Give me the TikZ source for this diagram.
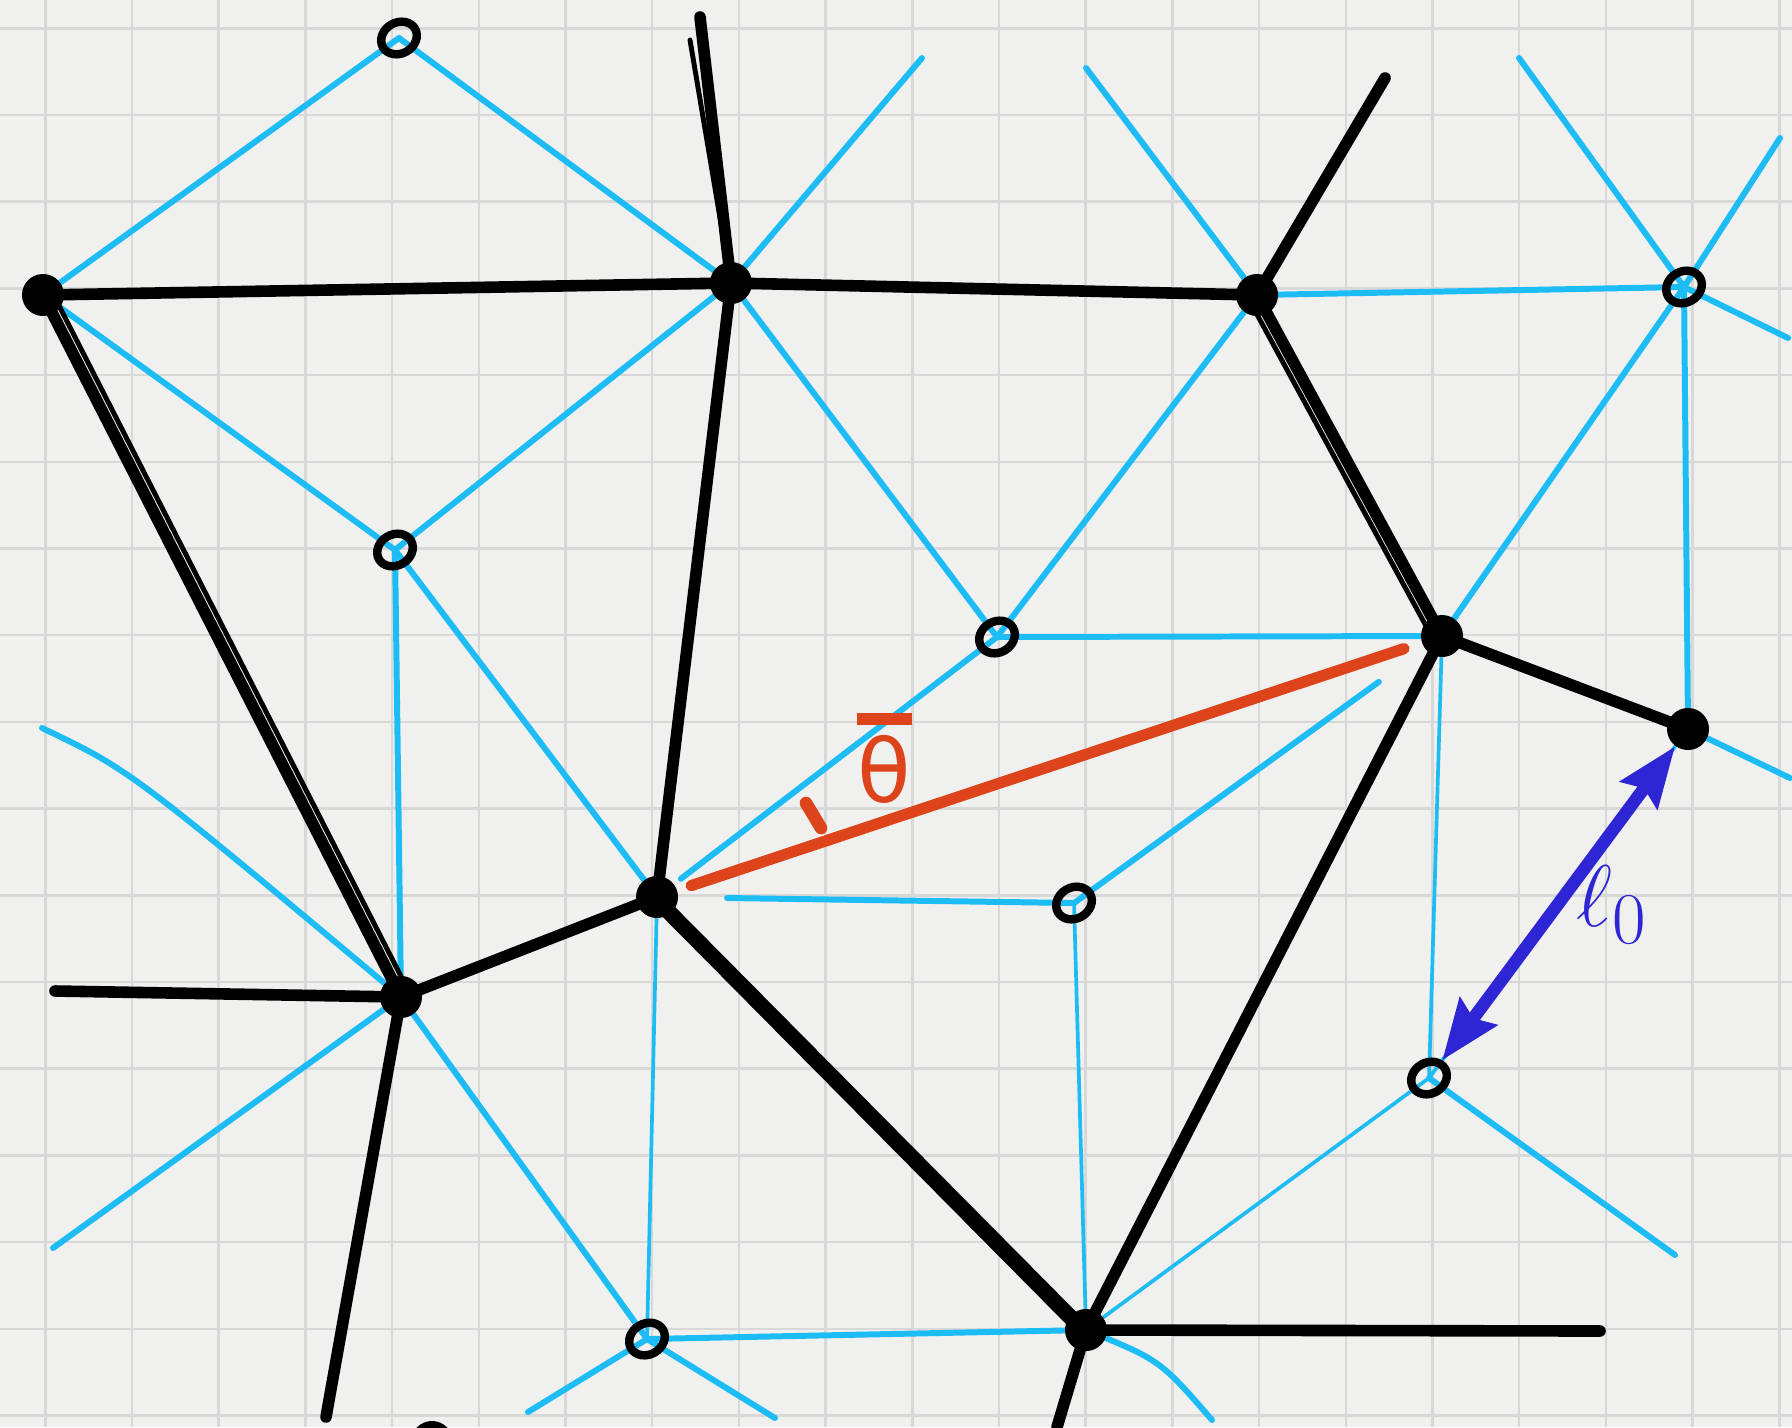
\documentclass[tikz,border=0pt]{standalone}
\usepackage{fontspec}
\newfontfamily\djv{DejaVu Sans}
\usetikzlibrary{arrows.meta,shapes.geometric}
\definecolor{paper}{RGB}{240,240,239}
\definecolor{gridc}{RGB}{216,216,216}
\definecolor{cyanl}{RGB}{30,188,245}
\definecolor{redl}{RGB}{222,68,28}
\definecolor{bluel}{RGB}{46,38,212}
\pgfdeclarelayer{paperlayer}
\pgfdeclarelayer{edges}
\pgfsetlayers{paperlayer,edges,main}
\tikzset{
  blk/.style={circle,fill=black,inner sep=0pt,minimum size=0.42cm},
  opn/.style={ellipse,draw=black,line width=2.4pt,inner sep=0pt,minimum width=0.37cm,minimum height=0.31cm,rotate=30},
  cy/.style={draw=cyanl,line width=1.7pt,line cap=round},
  cythin/.style={draw=cyanl,line width=1.05pt,line cap=round},
  bl/.style={draw=black,line width=3.3pt,line cap=round},
  blsk/.style={draw=black,line width=1.4pt,line cap=round},
  redline/.style={draw=redl,line width=3.2pt,line cap=round},
  bluearrow/.style={draw=bluel,line width=3.6pt,{Stealth[length=0.6cm,width=0.45cm,inset=0.08cm]}-{Stealth[length=0.6cm,width=0.45cm,inset=0.08cm]}},
  gridline/.style={draw=gridc,line width=0.7pt}
}
\begin{document}
\begin{tikzpicture}[x=0.01cm,y=-0.01cm]
\useasboundingbox (0,0) rectangle (1792,1427);
\begin{pgfonlayer}{paperlayer}
  \fill[paper] (0,0) rectangle (1792,1427);
  \foreach \i in {0,...,20} \draw[gridline] ({45.3+86.7*\i},0) -- ({45.3+86.7*\i},1427);
  \foreach \j in {0,...,16} \draw[gridline] (0,{28.3+86.7*\j}) -- (1792,{28.3+86.7*\j});
\end{pgfonlayer}

% black (filled) vertices
\node[blk] (B1) at (43,295) {};
\node[blk] (B2) at (731,283) {};
\node[blk] (B3) at (1257,295) {};
\node[blk] (B4) at (1442,636) {};
\node[blk] (B5) at (1688,729) {};
\node[blk] (B6) at (657,897) {};
\node[blk] (B7) at (401,997) {};
\node[blk] (B8) at (1086,1330) {};
\node[blk] (B9) at (432,1442) {};
% open vertices
\node[opn] (O1) at (399,38) {};
\node[opn] (O2) at (395,550) {};
\node[opn] (O3) at (997,637) {};
\node[opn] (O4) at (1684,287) {};
\node[opn] (O5) at (1074,903) {};
\node[opn] (O6) at (1429,1078) {};
\node[opn] (O7) at (647,1339) {};

% free ends
\coordinate (tB2) at (700,17);
\coordinate (tB2c) at (922,58);
\coordinate (tB3) at (1385,78);
\coordinate (tB3c) at (1086,68);
\coordinate (tO4a) at (1519,58);
\coordinate (tO4b) at (1780,138);
\coordinate (tO4c) at (1788,338);
\coordinate (tB5) at (1790,778);
\coordinate (tO6) at (1675,1255);
\coordinate (tB8r) at (1600,1331);
\coordinate (tB8d) at (1057,1427);
\coordinate (tB8c) at (1212,1420);
\coordinate (tO7a) at (528,1412);
\coordinate (tO7b) at (775,1418);
\coordinate (tB7l) at (55,991);
\coordinate (tB7d) at (326,1417);
\coordinate (tB7u) at (42,728);
\coordinate (tB7w) at (53,1248);

\begin{pgfonlayer}{edges}
% cyan edges
\draw[cy] (O1.center) -- (B1.center);
\draw[cy] (O1.center) -- (B2.center);
\draw[cy] (B1.center) -- (O2.center);
\draw[cy] (O2.center) -- (B2.center);
\draw[cy] (O2.center) -- (B7.center);
\draw[cy] (O2.center) -- (B6.center);
\draw[cy] (B2.center) -- (tB2c);
\draw[cy] (B2.center) -- (O3.center);
\draw[cy] (O3.center) -- (B3.center);
\draw[cy] (B3.center) -- (tB3c);
\draw[cy] (B3.center) -- (O4.center);
\draw[cy] (O3.center) -- (B4.center);
\draw[cy,shorten >=0.3cm] (O3.center) -- (B6.center);
\draw[cy] (B4.center) -- (O4.center);
\draw[cy] (O4.center) -- (tO4a);
\draw[cy] (O4.center) -- (tO4b);
\draw[cy] (O4.center) -- (tO4c);
\draw[cy] (O4.center) -- (B5.center);
\draw[cy] (B5.center) -- (tB5);
\draw[cythin] (B4.center) -- (O6.center);
\draw[cy,shorten >=0.78cm] (O5.center) -- (B4.center);
\draw[cy,shorten >=0.7cm] (O5.center) -- (B6.center);
\draw[cythin] (O5.center) -- (B8.center);
\draw[cythin] (B6.center) -- (O7.center);
\draw[cy] (B7.center) -- (O7.center);
\draw[cy] (tB7u) .. controls (130,770) .. (B7.center);
\draw[cy] (B7.center) -- (tB7w);
\draw[cy] (O7.center) -- (B8.center);
\draw[cy] (O7.center) -- (tO7a);
\draw[cy] (O7.center) -- (tO7b);
\draw[cythin] (B8.center) -- (O6.center);
\draw[cy] (B8.center) .. controls (1160,1360) .. (tB8c);
\draw[cy] (O6.center) -- (tO6);
\draw[cythin] (O6.center) -- (B5.center);
% black edges
\draw[bl] (B1.center) -- (B2.center);
\draw[bl] (B2.center) -- (B3.center);
\draw[bl] (B1.center) -- (B7.center);
\draw[blsk] ([xshift=3]B1.center) -- ([xshift=3]B7.center);
\draw[bl] (B2.center) -- (B6.center);
\draw[bl] (B2.center) -- (tB2);
\draw[blsk] (B2.center) -- (690,40);
\draw[bl] (B3.center) -- (tB3);
\draw[bl] (B3.center) -- (B4.center);
\draw[blsk] ([xshift=-3]B3.center) -- ([xshift=-3]B4.center);
\draw[bl] (B4.center) -- (B5.center);
\draw[bl] (B4.center) -- (B8.center);
\draw[bl] (B6.center) -- (B7.center);
\draw[bl] (B6.center) -- (B8.center);
\draw[blsk] ([xshift=-3]B6.center) -- ([xshift=-3]B8.center);
\draw[bl] (B7.center) -- (tB7l);
\draw[bl] (B7.center) -- (tB7d);
\draw[bl] (B8.center) -- (tB8r);
\draw[bl] (B8.center) -- (tB8d);
\end{pgfonlayer}

% red edge with angle mark and label
\draw[redline,shorten <=0.36cm,shorten >=0.4cm] (B6.center) -- (B4.center);
\draw[draw=redl,line width=3.6pt,line cap=round] (806,803) -- (821,828);
\node[text=redl,font=\Huge,inner sep=0pt] (th) at (884,758) {\shortstack{\rule{0.55cm}{3.5pt}\\[0pt]{\djv θ}}};

% blue double arrow with label
\draw[bluearrow] (O6) -- (B5);
\node[text=bluel,font=\Huge] (l0) at (1612,905) {$\ell_0$};
\end{tikzpicture}
\end{document}
